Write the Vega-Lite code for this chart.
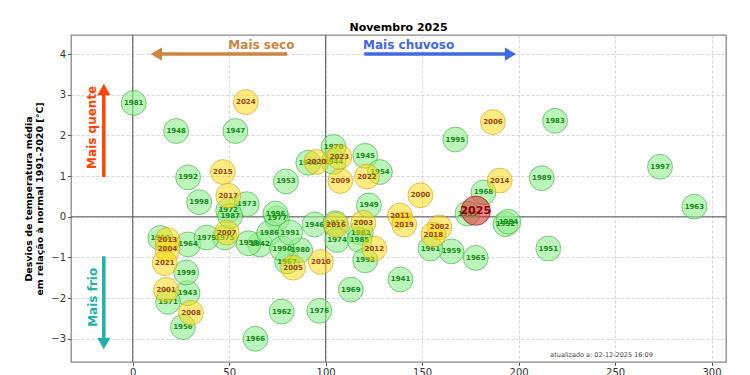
{
  "$schema": "https://vega.github.io/schema/vega-lite/v6.json",
  "autosize": {"type": "none"},
  "padding": {"left": 71, "top": 35, "right": 24, "bottom": 13},
  "width": 655,
  "height": 327,
  "title": {"text": "Novembro 2025", "font": "DejaVu Sans", "fontSize": 11, "fontWeight": "bold", "color": "#000", "anchor": "middle", "offset": 2},
  "config": {
    "view": {"stroke": "#888", "strokeWidth": 1.3},
    "font": "DejaVu Sans",
    "axis": {"labelFont": "DejaVu Sans", "labelFontSize": 10, "labelColor": "#333", "tickColor": "#555", "tickSize": 3.5, "domain": false, "grid": true, "gridColor": "#cccccc", "gridDash": [3, 2], "gridWidth": 0.8, "labelPadding": 2},
    "axisY": {"titleFont": "DejaVu Sans", "titleFontSize": 9.5, "titleFontWeight": "bold", "titleColor": "#000", "titleLineHeight": 11, "titlePadding": 6}
  },
  "datasets": {
    "anos": [
      {"ano": 1941, "precip": 138.8, "temp": -1.54, "periodo": "xx"},
      {"ano": 1942, "precip": 66, "temp": -0.68, "periodo": "xx"},
      {"ano": 1943, "precip": 28.4, "temp": -1.88, "periodo": "xx"},
      {"ano": 1944, "precip": 104.1, "temp": 1.35, "periodo": "xx"},
      {"ano": 1945, "precip": 120.5, "temp": 1.5, "periodo": "xx"},
      {"ano": 1946, "precip": 94.2, "temp": -0.19, "periodo": "xx"},
      {"ano": 1947, "precip": 53.2, "temp": 2.11, "periodo": "xx"},
      {"ano": 1948, "precip": 22.5, "temp": 2.11, "periodo": "xx"},
      {"ano": 1949, "precip": 122.4, "temp": 0.28, "periodo": "xx"},
      {"ano": 1950, "precip": 14.3, "temp": -0.52, "periodo": "xx"},
      {"ano": 1951, "precip": 215.4, "temp": -0.78, "periodo": "xx"},
      {"ano": 1952, "precip": 193.2, "temp": -0.18, "periodo": "xx"},
      {"ano": 1953, "precip": 79.4, "temp": 0.87, "periodo": "xx"},
      {"ano": 1954, "precip": 128.1, "temp": 1.1, "periodo": "xx"},
      {"ano": 1955, "precip": 173.5, "temp": 0.08, "periodo": "xx"},
      {"ano": 1956, "precip": 26, "temp": -2.71, "periodo": "xx"},
      {"ano": 1957, "precip": 105, "temp": -0.16, "periodo": "xx"},
      {"ano": 1958, "precip": 60, "temp": -0.65, "periodo": "xx"},
      {"ano": 1959, "precip": 165.2, "temp": -0.85, "periodo": "xx"},
      {"ano": 1960, "precip": 91, "temp": 1.33, "periodo": "xx"},
      {"ano": 1961, "precip": 154.3, "temp": -0.78, "periodo": "xx"},
      {"ano": 1962, "precip": 77.2, "temp": -2.33, "periodo": "xx"},
      {"ano": 1963, "precip": 291.1, "temp": 0.25, "periodo": "xx"},
      {"ano": 1964, "precip": 28.7, "temp": -0.68, "periodo": "xx"},
      {"ano": 1965, "precip": 177.8, "temp": -1.01, "periodo": "xx"},
      {"ano": 1966, "precip": 63.6, "temp": -3.0, "periodo": "xx"},
      {"ano": 1967, "precip": 80, "temp": -1.1, "periodo": "xx"},
      {"ano": 1968, "precip": 181.8, "temp": 0.6, "periodo": "xx"},
      {"ano": 1969, "precip": 113, "temp": -1.79, "periodo": "xx"},
      {"ano": 1970, "precip": 104.1, "temp": 1.72, "periodo": "xx"},
      {"ano": 1971, "precip": 18.3, "temp": -2.09, "periodo": "xx"},
      {"ano": 1972, "precip": 49.5, "temp": 0.16, "periodo": "xx"},
      {"ano": 1973, "precip": 59.1, "temp": 0.31, "periodo": "xx"},
      {"ano": 1974, "precip": 105.9, "temp": -0.57, "periodo": "xx"},
      {"ano": 1975, "precip": 47.7, "temp": -0.51, "periodo": "xx"},
      {"ano": 1976, "precip": 96.7, "temp": -2.31, "periodo": "xx"},
      {"ano": 1977, "precip": 74.8, "temp": -0.04, "periodo": "xx"},
      {"ano": 1979, "precip": 38.3, "temp": -0.51, "periodo": "xx"},
      {"ano": 1980, "precip": 86.8, "temp": -0.82, "periodo": "xx"},
      {"ano": 1981, "precip": 0.5, "temp": 2.8, "periodo": "xx"},
      {"ano": 1982, "precip": 118.2, "temp": -0.39, "periodo": "xx"},
      {"ano": 1983, "precip": 218.9, "temp": 2.36, "periodo": "xx"},
      {"ano": 1984, "precip": 194.7, "temp": -0.12, "periodo": "xx"},
      {"ano": 1985, "precip": 117.5, "temp": -0.57, "periodo": "xx"},
      {"ano": 1986, "precip": 70.7, "temp": -0.4, "periodo": "xx"},
      {"ano": 1987, "precip": 50.5, "temp": 0.02, "periodo": "xx"},
      {"ano": 1989, "precip": 212, "temp": 0.95, "periodo": "xx"},
      {"ano": 1990, "precip": 77.4, "temp": -0.78, "periodo": "xx"},
      {"ano": 1991, "precip": 81.6, "temp": -0.39, "periodo": "xx"},
      {"ano": 1992, "precip": 28.7, "temp": 0.97, "periodo": "xx"},
      {"ano": 1993, "precip": 120.5, "temp": -1.07, "periodo": "xx"},
      {"ano": 1995, "precip": 167.2, "temp": 1.9, "periodo": "xx"},
      {"ano": 1996, "precip": 74, "temp": 0.08, "periodo": "xx"},
      {"ano": 1997, "precip": 273.3, "temp": 1.23, "periodo": "xx"},
      {"ano": 1998, "precip": 34.4, "temp": 0.36, "periodo": "xx"},
      {"ano": 1999, "precip": 27.7, "temp": -1.37, "periodo": "xx"},
      {"ano": 2000, "precip": 149.1, "temp": 0.53, "periodo": "xxi"},
      {"ano": 2001, "precip": 17.3, "temp": -1.8, "periodo": "xxi"},
      {"ano": 2002, "precip": 159, "temp": -0.26, "periodo": "xxi"},
      {"ano": 2003, "precip": 119.5, "temp": -0.15, "periodo": "xxi"},
      {"ano": 2004, "precip": 18, "temp": -0.8, "periodo": "xxi"},
      {"ano": 2005, "precip": 83.1, "temp": -1.25, "periodo": "xxi"},
      {"ano": 2006, "precip": 186.7, "temp": 2.33, "periodo": "xxi"},
      {"ano": 2007, "precip": 48.7, "temp": -0.39, "periodo": "xxi"},
      {"ano": 2008, "precip": 30.2, "temp": -2.36, "periodo": "xxi"},
      {"ano": 2009, "precip": 107.6, "temp": 0.88, "periodo": "xxi"},
      {"ano": 2010, "precip": 97.5, "temp": -1.11, "periodo": "xxi"},
      {"ano": 2011, "precip": 138.5, "temp": 0.03, "periodo": "xxi"},
      {"ano": 2012, "precip": 125.2, "temp": -0.78, "periodo": "xxi"},
      {"ano": 2013, "precip": 18, "temp": -0.57, "periodo": "xxi"},
      {"ano": 2014, "precip": 190.2, "temp": 0.89, "periodo": "xxi"},
      {"ano": 2015, "precip": 46.7, "temp": 1.1, "periodo": "xxi"},
      {"ano": 2016, "precip": 105.4, "temp": -0.2, "periodo": "xxi"},
      {"ano": 2017, "precip": 49.5, "temp": 0.52, "periodo": "xxi"},
      {"ano": 2018, "precip": 155.8, "temp": -0.44, "periodo": "xxi"},
      {"ano": 2019, "precip": 140.7, "temp": -0.19, "periodo": "xxi"},
      {"ano": 2020, "precip": 95.2, "temp": 1.35, "periodo": "xxi"},
      {"ano": 2021, "precip": 16.6, "temp": -1.14, "periodo": "xxi"},
      {"ano": 2022, "precip": 121.4, "temp": 0.99, "periodo": "xxi"},
      {"ano": 2023, "precip": 107.1, "temp": 1.47, "periodo": "xxi"},
      {"ano": 2024, "precip": 58.6, "temp": 2.82, "periodo": "xxi"},
      {"ano": 2025, "precip": 177.8, "temp": 0.15, "periodo": "atual"}
    ],
    "vlinhas": [{"x": 0}, {"x": 100}],
    "hlinhas": [{"y": 0}],
    "setas": [
      {"nome": "seco", "x1": 80, "x2": 12.2, "y1": 4, "y2": 4, "hx": 12.2, "hy": 4},
      {"nome": "chuvoso", "x1": 120, "x2": 195.8, "y1": 4, "y2": 4, "hx": 195.8, "hy": 4},
      {"nome": "quente", "x1": -15, "x2": -15, "y1": 0.98, "y2": 3.13, "hx": -15, "hy": 3.13},
      {"nome": "frio", "x1": -15, "x2": -15, "y1": -0.97, "y2": -3.12, "hx": -15, "hy": -3.12}
    ],
    "rotulosH": [
      {"nome": "seco", "texto": "Mais seco", "x": 66.7, "y": 4.22},
      {"nome": "chuvoso", "texto": "Mais chuvoso", "x": 143, "y": 4.22}
    ],
    "rotulosV": [
      {"nome": "quente", "texto": "Mais quente", "x": -21.2, "y": 2.2},
      {"nome": "frio", "texto": "Mais frio", "x": -20.4, "y": -1.98}
    ],
    "nota": [{"texto": "atualizado a: 02-12-2025 16:09", "x": 243, "y": -3.4}]
  },
  "layer": [
    {
      "data": {"name": "vlinhas"},
      "mark": {"type": "rule", "color": "#555", "strokeWidth": 1},
      "encoding": {
        "x": {"field": "x", "type": "quantitative", "scale": {"domain": [-32, 307.5], "nice": false, "zero": false},
              "axis": {"values": [0, 50, 100, 150, 200, 250, 300], "title": null}}
      }
    },
    {
      "data": {"name": "hlinhas"},
      "mark": {"type": "rule", "color": "#555", "strokeWidth": 1},
      "encoding": {
        "y": {"field": "y", "type": "quantitative", "scale": {"domain": [-3.57, 4.47], "nice": false, "zero": false},
              "axis": {"values": [-3, -2, -1, 0, 1, 2, 3, 4], "title": ["Desvios de temperatura média", "em relação à normal 1991-2020 [°C]"]}}
      }
    },
    {
      "data": {"name": "anos"},
      "transform": [{"filter": "datum.periodo == 'xx'"}],
      "mark": {"type": "circle", "size": 620, "fill": "#90EE90", "fillOpacity": 0.6, "stroke": "#2ca02c", "strokeOpacity": 0.55, "strokeWidth": 1},
      "encoding": {
        "x": {"field": "precip", "type": "quantitative", "scale": {"domain": [-32, 307.5], "nice": false, "zero": false}, "axis": {"values": [0, 50, 100, 150, 200, 250, 300], "title": null}},
        "y": {"field": "temp", "type": "quantitative", "scale": {"domain": [-3.57, 4.47], "nice": false, "zero": false}, "axis": {"values": [-3, -2, -1, 0, 1, 2, 3, 4], "title": ["Desvios de temperatura média", "em relação à normal 1991-2020 [°C]"]}}
      }
    },
    {
      "data": {"name": "anos"},
      "transform": [{"filter": "datum.periodo == 'xx'"}],
      "mark": {"type": "text", "font": "DejaVu Sans", "fontWeight": "bold", "fontSize": 7, "color": "#168a16"},
      "encoding": {
        "x": {"field": "precip", "type": "quantitative", "scale": {"domain": [-32, 307.5], "nice": false, "zero": false}, "axis": {"values": [0, 50, 100, 150, 200, 250, 300], "title": null}},
        "y": {"field": "temp", "type": "quantitative", "scale": {"domain": [-3.57, 4.47], "nice": false, "zero": false}, "axis": {"values": [-3, -2, -1, 0, 1, 2, 3, 4], "title": ["Desvios de temperatura média", "em relação à normal 1991-2020 [°C]"]}},
        "text": {"field": "ano", "type": "nominal"}
      }
    },
    {
      "data": {"name": "anos"},
      "transform": [{"filter": "datum.periodo == 'xxi'"}],
      "mark": {"type": "circle", "size": 620, "fill": "#FFD700", "fillOpacity": 0.5, "stroke": "#C8A020", "strokeOpacity": 0.6, "strokeWidth": 1},
      "encoding": {
        "x": {"field": "precip", "type": "quantitative", "scale": {"domain": [-32, 307.5], "nice": false, "zero": false}, "axis": {"values": [0, 50, 100, 150, 200, 250, 300], "title": null}},
        "y": {"field": "temp", "type": "quantitative", "scale": {"domain": [-3.57, 4.47], "nice": false, "zero": false}, "axis": {"values": [-3, -2, -1, 0, 1, 2, 3, 4], "title": ["Desvios de temperatura média", "em relação à normal 1991-2020 [°C]"]}}
      }
    },
    {
      "data": {"name": "anos"},
      "transform": [{"filter": "datum.periodo == 'xxi'"}],
      "mark": {"type": "text", "font": "DejaVu Sans", "fontWeight": "bold", "fontSize": 7, "color": "#94461a"},
      "encoding": {
        "x": {"field": "precip", "type": "quantitative", "scale": {"domain": [-32, 307.5], "nice": false, "zero": false}, "axis": {"values": [0, 50, 100, 150, 200, 250, 300], "title": null}},
        "y": {"field": "temp", "type": "quantitative", "scale": {"domain": [-3.57, 4.47], "nice": false, "zero": false}, "axis": {"values": [-3, -2, -1, 0, 1, 2, 3, 4], "title": ["Desvios de temperatura média", "em relação à normal 1991-2020 [°C]"]}},
        "text": {"field": "ano", "type": "nominal"}
      }
    },
    {
      "data": {"name": "anos"},
      "transform": [{"filter": "datum.periodo == 'atual'"}],
      "mark": {"type": "circle", "size": 860, "fill": "#D62728", "fillOpacity": 0.55, "stroke": "#8B0000", "strokeOpacity": 0.6, "strokeWidth": 1},
      "encoding": {
        "x": {"field": "precip", "type": "quantitative", "scale": {"domain": [-32, 307.5], "nice": false, "zero": false}, "axis": {"values": [0, 50, 100, 150, 200, 250, 300], "title": null}},
        "y": {"field": "temp", "type": "quantitative", "scale": {"domain": [-3.57, 4.47], "nice": false, "zero": false}, "axis": {"values": [-3, -2, -1, 0, 1, 2, 3, 4], "title": ["Desvios de temperatura média", "em relação à normal 1991-2020 [°C]"]}}
      }
    },
    {
      "data": {"name": "anos"},
      "transform": [{"filter": "datum.periodo == 'atual'"}],
      "mark": {"type": "text", "font": "DejaVu Sans", "fontWeight": "bold", "fontSize": 11, "color": "#8B0000"},
      "encoding": {
        "x": {"field": "precip", "type": "quantitative", "scale": {"domain": [-32, 307.5], "nice": false, "zero": false}, "axis": {"values": [0, 50, 100, 150, 200, 250, 300], "title": null}},
        "y": {"field": "temp", "type": "quantitative", "scale": {"domain": [-3.57, 4.47], "nice": false, "zero": false}, "axis": {"values": [-3, -2, -1, 0, 1, 2, 3, 4], "title": ["Desvios de temperatura média", "em relação à normal 1991-2020 [°C]"]}},
        "text": {"field": "ano", "type": "nominal"}
      }
    },
    {
      "data": {"name": "setas"},
      "mark": {"type": "rule", "strokeWidth": 3.5},
      "encoding": {
        "x": {"field": "x1", "type": "quantitative", "scale": {"domain": [-32, 307.5], "nice": false, "zero": false}, "axis": {"values": [0, 50, 100, 150, 200, 250, 300], "title": null}},
        "x2": {"field": "x2"},
        "y": {"field": "y1", "type": "quantitative", "scale": {"domain": [-3.57, 4.47], "nice": false, "zero": false}, "axis": {"values": [-3, -2, -1, 0, 1, 2, 3, 4], "title": ["Desvios de temperatura média", "em relação à normal 1991-2020 [°C]"]}},
        "y2": {"field": "y2"},
        "color": {"field": "nome", "type": "nominal", "legend": null,
                  "scale": {"domain": ["seco", "chuvoso", "quente", "frio"], "range": ["#CD853F", "#4169E1", "#FF4500", "#20B2AA"]}}
      }
    },
    {
      "data": {"name": "setas"},
      "mark": {"type": "point", "filled": true, "opacity": 1, "size": 170},
      "encoding": {
        "x": {"field": "hx", "type": "quantitative", "scale": {"domain": [-32, 307.5], "nice": false, "zero": false}, "axis": {"values": [0, 50, 100, 150, 200, 250, 300], "title": null}},
        "y": {"field": "hy", "type": "quantitative", "scale": {"domain": [-3.57, 4.47], "nice": false, "zero": false}, "axis": {"values": [-3, -2, -1, 0, 1, 2, 3, 4], "title": ["Desvios de temperatura média", "em relação à normal 1991-2020 [°C]"]}},
        "shape": {"field": "nome", "type": "nominal", "legend": null,
                  "scale": {"domain": ["seco", "chuvoso", "quente", "frio"], "range": ["triangle-left", "triangle-right", "triangle-up", "triangle-down"]}},
        "color": {"field": "nome", "type": "nominal", "legend": null,
                  "scale": {"domain": ["seco", "chuvoso", "quente", "frio"], "range": ["#CD853F", "#4169E1", "#FF4500", "#20B2AA"]}}
      }
    },
    {
      "data": {"name": "rotulosH"},
      "mark": {"type": "text", "font": "DejaVu Sans", "fontWeight": "bold", "fontSize": 12, "align": "center", "baseline": "middle"},
      "encoding": {
        "x": {"field": "x", "type": "quantitative", "scale": {"domain": [-32, 307.5], "nice": false, "zero": false}, "axis": {"values": [0, 50, 100, 150, 200, 250, 300], "title": null}},
        "y": {"field": "y", "type": "quantitative", "scale": {"domain": [-3.57, 4.47], "nice": false, "zero": false}, "axis": {"values": [-3, -2, -1, 0, 1, 2, 3, 4], "title": ["Desvios de temperatura média", "em relação à normal 1991-2020 [°C]"]}},
        "text": {"field": "texto", "type": "nominal"},
        "color": {"field": "nome", "type": "nominal", "legend": null,
                  "scale": {"domain": ["seco", "chuvoso", "quente", "frio"], "range": ["#CD853F", "#4169E1", "#FF4500", "#20B2AA"]}}
      }
    },
    {
      "data": {"name": "rotulosV"},
      "mark": {"type": "text", "font": "DejaVu Sans", "fontWeight": "bold", "fontSize": 12, "align": "center", "baseline": "middle", "angle": 270},
      "encoding": {
        "x": {"field": "x", "type": "quantitative", "scale": {"domain": [-32, 307.5], "nice": false, "zero": false}, "axis": {"values": [0, 50, 100, 150, 200, 250, 300], "title": null}},
        "y": {"field": "y", "type": "quantitative", "scale": {"domain": [-3.57, 4.47], "nice": false, "zero": false}, "axis": {"values": [-3, -2, -1, 0, 1, 2, 3, 4], "title": ["Desvios de temperatura média", "em relação à normal 1991-2020 [°C]"]}},
        "text": {"field": "texto", "type": "nominal"},
        "color": {"field": "nome", "type": "nominal", "legend": null,
                  "scale": {"domain": ["seco", "chuvoso", "quente", "frio"], "range": ["#CD853F", "#4169E1", "#FF4500", "#20B2AA"]}}
      }
    },
    {
      "data": {"name": "nota"},
      "mark": {"type": "text", "font": "DejaVu Sans", "fontSize": 6.5, "color": "#444", "align": "center", "baseline": "middle"},
      "encoding": {
        "x": {"field": "x", "type": "quantitative", "scale": {"domain": [-32, 307.5], "nice": false, "zero": false}, "axis": {"values": [0, 50, 100, 150, 200, 250, 300], "title": null}},
        "y": {"field": "y", "type": "quantitative", "scale": {"domain": [-3.57, 4.47], "nice": false, "zero": false}, "axis": {"values": [-3, -2, -1, 0, 1, 2, 3, 4], "title": ["Desvios de temperatura média", "em relação à normal 1991-2020 [°C]"]}},
        "text": {"field": "texto", "type": "nominal"}
      }
    }
  ]
}
